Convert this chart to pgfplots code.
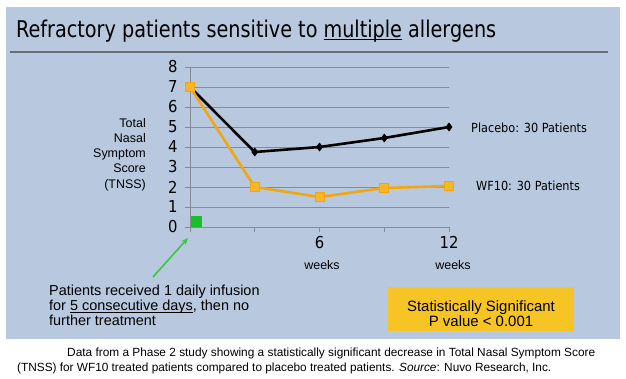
\documentclass[border=0pt]{standalone}
\usepackage{pgfplots}
\pgfplotsset{compat=1.18}
\usepackage{fontspec}
\setmainfont{Liberation Sans}
\newfontfamily\tah{DejaVu Sans Condensed}
\usetikzlibrary{arrows.meta}
\newcommand\ulin[2][2bp]{\setbox0\hbox{#2}\rlap{\rule[-#1]{\wd0}{0.9bp}}\box0\relax}
\definecolor{panel}{RGB}{183,200,223}
\definecolor{gridgray}{RGB}{135,140,148}
\definecolor{rulegray}{RGB}{105,110,118}
\definecolor{wfline}{RGB}{240,168,18}
\definecolor{wfmark}{RGB}{247,182,40}
\definecolor{boxyellow}{RGB}{246,196,36}
\definecolor{arrowgreen}{RGB}{60,200,60}
\definecolor{sqgreen}{RGB}{25,190,40}
\begin{document}
\begin{tikzpicture}[x=1bp,y=1bp]
\fill[white] (0,0) rectangle (626,378);
\fill[panel] (6,39) rectangle (620,371);
% title
\node[anchor=base west,inner sep=0] at (16,341) {\resizebox{480bp}{17.5bp}{\tah\fontsize{22}{22}\selectfont Refractory patients sensitive to \ulin[2.5bp]{multiple} allergens}};
\draw[rulegray,line width=1.2bp] (10,326) -- (608,326);
\begin{axis}[
  at={(190bp,151bp)}, anchor=south west,
  scale only axis, width=259bp, height=160bp,
  xmin=0, xmax=4, ymin=0, ymax=8,
  clip=false,
  axis lines=left,
  axis line style={-, draw=gridgray, line width=0.9bp},
  ymajorgrids, grid style={gridgray, line width=0.9bp},
  xtick={0,1,2,3,4}, xticklabels={,,6,,12},
  ytick={0,1,2,3,4,5,6,7,8},
  tick align=outside, major tick length=5bp,
  tick style={gridgray, line width=0.9bp},
  /pgf/number format/assume math mode=true,
  ticklabel style={font=\tah\fontsize{16.5}{16.5}\selectfont, text=black},
  yticklabel style={xshift=-4bp},
  xticklabel style={yshift=-1bp},
]
\addplot[black, line width=2.6bp, mark=diamond*, mark size=4bp, mark options={fill=black, line width=0.6bp}]
  coordinates {(0,7) (1,3.75) (2,4) (3,4.45) (4,5)};
\addplot[wfline, line width=2.6bp, mark=square*, mark size=4.6bp, mark options={fill=wfmark, draw=wfline, line width=0.8bp}]
  coordinates {(0,7) (1,2) (2,1.5) (3,1.95) (4,2.05)};
\addplot[only marks, mark=square*, mark size=4.8bp, mark options={fill=sqgreen, draw=sqgreen}]
  coordinates {(0.1,0.3)};
\end{axis}
% y label
\node[anchor=east, align=right, inner sep=0, font=\fontsize{12.5}{15.3}\selectfont] at (146,223.5) {Total\\Nasal\\Symptom\\Score\\(TNSS)};
% series labels
\node[anchor=west, inner sep=0, font=\tah\fontsize{12.6}{12.6}\selectfont] at (471,250) {Placebo: 30 Patients};
\node[anchor=west, inner sep=0, font=\tah\fontsize{12.6}{12.6}\selectfont] at (476,192) {WF10: 30 Patients};
% weeks
\node[inner sep=0, font=\fontsize{12.5}{12.5}\selectfont] at (322,113) {weeks};
\node[inner sep=0, font=\fontsize{12.5}{12.5}\selectfont] at (453,113) {weeks};
% arrow
\draw[arrowgreen, line width=1.6bp, -{Stealth[length=7bp,width=6bp]}] (153,101) -- (188,140);
% annotation
\node[anchor=base west, inner sep=0, font=\fontsize{14.5}{15.3}\selectfont] at (49,83) {Patients received 1 daily infusion};
\node[anchor=base west, inner sep=0, font=\fontsize{14.5}{15.3}\selectfont] at (49,67.5) {for \ulin{5 consecutive days}, then no};
\node[anchor=base west, inner sep=0, font=\fontsize{14.5}{15.3}\selectfont] at (49,53) {further treatment};
% yellow box
\fill[boxyellow] (388,47) rectangle (574,91);
\node[align=center, inner sep=0, font=\fontsize{15}{15}\selectfont] at (481,64.5) {Statistically Significant\\P value < 0.001};
% caption
\node[anchor=base west, inner sep=0] at (67,22) {\resizebox{528bp}{8.6bp}{\fontsize{12}{12}\selectfont Data from a Phase 2 study showing a statistically significant decrease in Total Nasal Symptom Score}};
\node[anchor=base west, inner sep=0] at (17,7) {\resizebox{534bp}{8.6bp}{\fontsize{12}{12}\selectfont (TNSS) for WF10 treated patients compared to placebo treated patients. \textit{Source}: Nuvo Research, Inc.}};
\end{tikzpicture}
\end{document}
